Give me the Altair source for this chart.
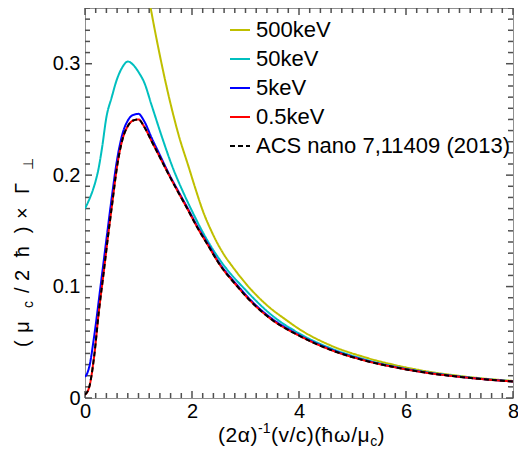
import altair as alt
import pandas as pd

# ---------------- data ----------------
series_names = ["500keV", "50keV", "5keV", "0.5keV", "ACS nano 7,11409 (2013)"]
series_colors = ["#bfbf00", "#00bfbf", "#0000ff", "#ff0000", "#000000"]

x_500 = [1.05, 1.22, 1.38, 1.56, 1.75, 1.94, 2.05, 2.21, 2.37, 2.62, 2.74, 3.0, 3.36,
         3.79, 4.0, 4.6, 5.2, 5.8, 6.4, 7.0, 7.6, 8.0]
y_500 = [0.400, 0.352, 0.312, 0.272, 0.236, 0.207, 0.190, 0.167, 0.149, 0.127, 0.119,
         0.103, 0.085, 0.069, 0.062, 0.047, 0.037, 0.0295, 0.0238, 0.0198, 0.0168, 0.0153]

x_50 = [0, 0.05, 0.12, 0.2, 0.25, 0.32, 0.4, 0.5, 0.59, 0.7, 0.8, 0.9, 1.02, 1.1, 1.25,
        1.44, 1.63, 1.87, 2.06, 2.21, 2.55, 3.0, 3.5, 4.0, 4.6, 5.2, 5.8, 6.4, 7.0, 7.6, 8.0]
y_50 = [0.170, 0.175, 0.183, 0.195, 0.205, 0.225, 0.252, 0.270, 0.285, 0.297, 0.302,
        0.299, 0.291, 0.284, 0.262, 0.234, 0.208, 0.181, 0.162, 0.148, 0.122, 0.097,
        0.074, 0.058, 0.0445, 0.035, 0.028, 0.023, 0.0193, 0.0164, 0.015]

x_5 = [0, 0.04, 0.08, 0.17, 0.3, 0.42, 0.5, 0.6, 0.7, 0.8, 0.9, 1.0, 1.1, 1.25, 1.4,
       1.56, 1.75, 1.9, 2.1, 2.3, 2.5, 2.85, 3.2, 3.5, 4.0, 4.6, 5.2, 5.8, 6.4, 7.0, 7.6, 8.0]
y_5 = [0.019, 0.022, 0.028, 0.055, 0.104, 0.150, 0.180, 0.214, 0.237, 0.249, 0.254,
       0.255, 0.249, 0.233, 0.218, 0.202, 0.185, 0.172, 0.154, 0.138, 0.122, 0.101,
       0.083, 0.071, 0.0565, 0.0435, 0.0343, 0.0277, 0.0227, 0.0191, 0.0163, 0.0149]

x_05 = [0, 0.08, 0.17, 0.26, 0.35, 0.43, 0.51, 0.6, 0.7, 0.8, 0.9, 1.0, 1.1, 1.25, 1.4,
        1.56, 1.75, 1.9, 2.1, 2.3, 2.5, 2.85, 3.2, 3.5, 4.0, 4.6, 5.2, 5.8, 6.4, 7.0, 7.6, 8.0]
y_05 = [0.003, 0.010, 0.037, 0.078, 0.113, 0.145, 0.175, 0.208, 0.232, 0.244, 0.249,
        0.250, 0.244, 0.230, 0.216, 0.201, 0.184, 0.171, 0.153, 0.137, 0.121, 0.100,
        0.082, 0.070, 0.056, 0.043, 0.034, 0.0275, 0.0225, 0.019, 0.0162, 0.0148]

x_acs = [0, 0.08, 0.17, 0.26, 0.35, 0.43, 0.51, 0.6, 0.7, 0.8, 0.9, 1.0, 1.1, 1.25, 1.4,
         1.56, 1.75, 1.9, 2.1, 2.3, 2.5, 2.85, 3.2, 3.5, 4.0, 4.6, 5.2, 5.8, 6.4, 7.0, 7.6, 8.0]
y_acs = [0.003, 0.010, 0.037, 0.078, 0.113, 0.145, 0.175, 0.208, 0.232, 0.244, 0.249,
         0.250, 0.244, 0.230, 0.216, 0.201, 0.184, 0.171, 0.153, 0.137, 0.121, 0.100,
         0.082, 0.070, 0.056, 0.043, 0.034, 0.0275, 0.0225, 0.019, 0.0162, 0.0148]

x_tick_labels = [0, 2, 4, 6, 8]
y_tick_labels = [0, 0.1, 0.2, 0.3]
x_minor_ticks = [round(0.2 * i, 1) for i in range(41) if i % 10 != 0]
y_minor_ticks = [round(0.01 * i, 2) for i in range(36) if i % 10 != 0]

# ---------------- build table ----------------
frames = []
for name, xs, ys in zip(series_names, [x_500, x_50, x_5, x_05, x_acs],
                        [y_500, y_50, y_5, y_05, y_acs]):
    frames.append(pd.DataFrame({"x": xs, "y": ys, "series": name}))
df = pd.concat(frames, ignore_index=True)

W, H = 428, 390
XMAX, YMAX = 8.0, 0.35
FONT = "Liberation Sans"
FRAME = "#909090"
TICK = "#505050"

xscale = alt.Scale(domain=[0, XMAX], nice=False, zero=False)
yscale = alt.Scale(domain=[0, YMAX], nice=False, zero=False)

xaxis = alt.Axis(values=x_tick_labels, format="d", labelFontSize=20, labelFont=FONT,
                 labelColor="black", ticks=False, domain=False, grid=False,
                 labelPadding=3, labelFlush=False, labelOverlap=False, title="")
yaxis = alt.Axis(values=y_tick_labels, format="~g", labelFontSize=20, labelFont=FONT,
                 labelColor="black", ticks=False, domain=False, grid=False,
                 labelPadding=5, labelFlush=False, labelOverlap=False, title="")

color_scale = alt.Scale(domain=series_names, range=series_colors)
dash_scale = alt.Scale(domain=series_names, range=[[1, 0], [1, 0], [1, 0], [1, 0], [5, 3]])

leg = alt.Legend(title=None, orient="none", legendX=144, legendY=11, symbolType="stroke",
                 symbolSize=400, symbolStrokeWidth=2, labelFontSize=22, labelFont=FONT,
                 labelColor="black", labelOffset=5, rowPadding=7, padding=0, symbolLimit=0,
                 labelLimit=400)

layers = []
for name in series_names:
    layers.append(
        alt.Chart(df).transform_filter(alt.datum.series == name)
        .mark_line(clip=True, strokeWidth=2, interpolate="monotone")
        .encode(
            x=alt.X("x:Q", scale=xscale, axis=xaxis),
            y=alt.Y("y:Q", scale=yscale, axis=yaxis),
            color=alt.Color("series:N", scale=color_scale, legend=leg),
            strokeDash=alt.StrokeDash("series:N", scale=dash_scale, legend=leg),
        )
    )

# ---------------- inward ticks on all four sides: short 2-point segments ----------------
tk = []
tid = 0
for vals, px in [(x_tick_labels, 7), (x_minor_ticks, 5)]:
    d = px / H * YMAX
    for v in vals:
        for y0, y1 in [(0.0, d), (YMAX, YMAX - d)]:
            tk.append({"x": v, "y": y0, "tid": tid})
            tk.append({"x": v, "y": y1, "tid": tid})
            tid += 1
for vals, px in [(y_tick_labels, 7), (y_minor_ticks, 5)]:
    d = px / W * XMAX
    for v in vals:
        for x0, x1 in [(0.0, d), (XMAX, XMAX - d)]:
            tk.append({"x": x0, "y": v, "tid": tid})
            tk.append({"x": x1, "y": v, "tid": tid})
            tid += 1

tick_layer = alt.Chart(pd.DataFrame(tk)).mark_line(color=TICK, strokeWidth=1.5).encode(
    x=alt.X("x:Q", scale=xscale, axis=xaxis),
    y=alt.Y("y:Q", scale=yscale, axis=yaxis),
    detail="tid:N",
)

# ---------------- axis titles with sub/superscripts ----------------
CW = {"(": 0.333, ")": 0.333, "2": 0.556, "α": 0.578, "-": 0.333, "1": 0.556, "v": 0.5,
      "/": 0.278, "c": 0.5, "ħ": 0.556, "ω": 0.781, "μ": 0.576, "×": 0.584, "Γ": 0.556,
      "⊥": 0.6}
one_row = pd.DataFrame({"k": [0]})

def title_layers(segs, start, span, base, big, small, vertical):
    glyphs = []
    for text, kind in segs:
        for ch in text:
            glyphs.append((ch, kind))
    widths = [CW[ch] * (big if kind == "n" else small) for ch, kind in glyphs]
    k = span / sum(widths)
    out = []
    pos = 0.0
    for (ch, kind), w in zip(glyphs, widths):
        size = big if kind == "n" else small
        shift = {"n": 0, "sup": -0.42 * big, "sub": 0.2 * big}[kind]
        if vertical:
            mark = alt.Chart(one_row).mark_text(angle=270, align="left", baseline="alphabetic",
                                                fontSize=size, font=FONT, color="black")
            enc = dict(x=alt.value(base + shift), y=alt.value(start - pos * k))
        else:
            mark = alt.Chart(one_row).mark_text(align="left", baseline="alphabetic",
                                                fontSize=size, font=FONT, color="black")
            enc = dict(x=alt.value(start + pos * k), y=alt.value(base + shift))
        out.append(mark.encode(text=alt.value(ch), **enc))
        pos += w
    return out

x_title = title_layers([("(2α)", "n"), ("-1", "sup"), ("(v/c)(ħω/μ", "n"), ("c", "sub"), (")", "n")],
                       start=133, span=167, base=434, big=21, small=14, vertical=False)
y_title = title_layers([("(μ", "n"), ("c", "sub"), ("/2ħ)×Γ", "n"), ("⊥", "sub")],
                       start=339, span=195, base=-56, big=20, small=14, vertical=True)

chart = alt.layer(*([tick_layer] + layers + x_title + y_title)).properties(
    width=W, height=H,
    autosize=alt.AutoSizeParams(type="none"),
    padding={"left": 77, "top": 0, "right": 5, "bottom": 51},
).configure_view(stroke=FRAME, strokeWidth=1)

chart.save("out.html", embed_options={"renderer": "svg", "actions": False})
